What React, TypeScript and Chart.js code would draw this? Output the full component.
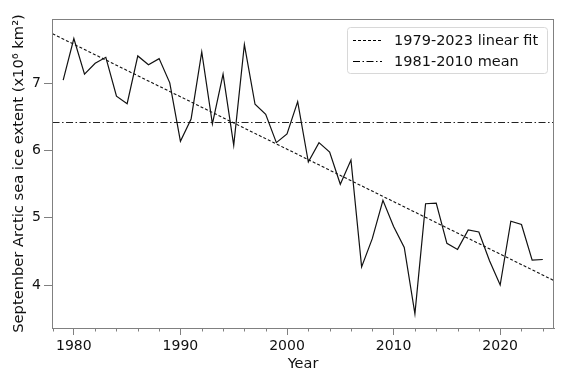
import React, { useEffect, useRef } from "react";
import { Chart, registerables } from "chart.js";

Chart.register(...registerables);

const years = [
  1979, 1980, 1981, 1982, 1983, 1984, 1985, 1986, 1987, 1988, 1989, 1990,
  1991, 1992, 1993, 1994, 1995, 1996, 1997, 1998, 1999, 2000, 2001, 2002,
  2003, 2004, 2005, 2006, 2007, 2008, 2009, 2010, 2011, 2012, 2013, 2014,
  2015, 2016, 2017, 2018, 2019, 2020, 2021, 2022, 2023, 2024,
];
const extent = [
  7.05, 7.67, 7.14, 7.30, 7.39, 6.81, 6.70, 7.41, 7.28, 7.37, 7.01, 6.14,
  6.47, 7.47, 6.40, 7.14, 6.08, 7.58, 6.69, 6.54, 6.12, 6.25, 6.73, 5.83,
  6.12, 5.98, 5.50, 5.86, 4.27, 4.69, 5.26, 4.87, 4.56, 3.57, 5.21, 5.22,
  4.62, 4.53, 4.82, 4.79, 4.36, 4.00, 4.95, 4.90, 4.37, 4.38,
];
const fitYears = [1978, 2025];
const fitValues = [7.74, 4.07];
const meanYears = [1978, 2025];
const meanValues = [6.42, 6.42];
const xMajorTicks = [1980, 1990, 2000, 2010, 2020];
const xMinorTicks = [
  1978, 1982, 1984, 1986, 1988, 1992, 1994, 1996, 1998, 2002, 2004, 2006,
  2008, 2012, 2014, 2016, 2018, 2022, 2024,
];
const yTicks = [4, 5, 6, 7];
const legendLabels = ["1979-2023 linear fit", "1981-2010 mean"];
const xTitle = "Year";
const yTitle = "September Arctic sea ice extent (x10\u2076 km\u00b2)";

const FONT = "'DejaVu Sans', sans-serif";
const FIT_DASH = [3, 2];
const MEAN_DASH = [7, 2.5, 1.5, 2.5];

export default function App() {
  const ref = useRef<HTMLCanvasElement | null>(null);
  useEffect(() => {
    if (!ref.current) return;
    const extras = {
      id: "extras",
      afterDraw(chart: any) {
        const ctx = chart.ctx;
        const ca = chart.chartArea;
        const xs = chart.scales.x;
        ctx.save();
        // box spines
        ctx.strokeStyle = "#808080";
        ctx.lineWidth = 1;
        ctx.setLineDash([]);
        ctx.strokeRect(ca.left + 0.5, ca.top + 0.5, ca.right - ca.left - 1, ca.bottom - ca.top);
        // minor ticks
        ctx.beginPath();
        for (const v of xMinorTicks) {
          const px = Math.round(xs.getPixelForValue(v)) + 0.5;
          ctx.moveTo(px, ca.bottom);
          ctx.lineTo(px, ca.bottom + 3.5);
        }
        ctx.stroke();
        // legend
        const lx = 347, ly = 27, lw = 200, lh = 46;
        ctx.fillStyle = "rgba(255,255,255,0.85)";
        ctx.strokeStyle = "#d8d8d8";
        ctx.beginPath();
        (ctx as any).roundRect(lx + 0.5, ly + 0.5, lw, lh, 3);
        ctx.fill();
        ctx.stroke();
        const rows = [
          { y: 40, dash: FIT_DASH, label: legendLabels[0] },
          { y: 61, dash: MEAN_DASH, label: legendLabels[1] },
        ];
        ctx.font = `14.5px ${FONT}`;
        ctx.textBaseline = "middle";
        ctx.textAlign = "left";
        for (const r of rows) {
          ctx.strokeStyle = "#000";
          ctx.lineWidth = 1;
          ctx.setLineDash(r.dash);
          ctx.beginPath();
          ctx.moveTo(353, r.y + 0.5);
          ctx.lineTo(382, r.y + 0.5);
          ctx.stroke();
          ctx.setLineDash([]);
          ctx.fillStyle = "#111";
          ctx.fillText(r.label, 394, r.y + 1);
        }
        ctx.restore();
      },
    };
    const chart = new Chart(ref.current, {
      type: "line",
      data: {
        datasets: [
          {
            label: "extent",
            data: years.map((y, i) => ({ x: y, y: extent[i] })),
            borderColor: "#111",
            borderWidth: 1.2,
            pointRadius: 0,
            tension: 0,
          },
          {
            label: legendLabels[0],
            data: fitYears.map((y, i) => ({ x: y, y: fitValues[i] })),
            borderColor: "#111",
            borderWidth: 1.1,
            borderDash: FIT_DASH,
            pointRadius: 0,
          },
          {
            label: legendLabels[1],
            data: meanYears.map((y, i) => ({ x: y, y: meanValues[i] })),
            borderColor: "#222",
            borderWidth: 1.1,
            borderDash: MEAN_DASH,
            pointRadius: 0,
          },
        ],
      },
      options: {
        animation: false,
        responsive: false,
        devicePixelRatio: 1,
        layout: { padding: { top: 19, right: 20, left: 0, bottom: 0 } },
        plugins: { legend: { display: false }, tooltip: { enabled: false } },
        scales: {
          x: {
            type: "linear",
            min: 1977.95,
            max: 2025.05,
            afterBuildTicks: (s: any) => {
              s.ticks = xMajorTicks.map((v) => ({ value: v }));
            },
            afterFit: (s: any) => {
              s.height = 51;
            },
            grid: {
              drawOnChartArea: false,
              drawTicks: true,
              tickLength: 7,
              color: "#808080",
            },
            border: { display: true, color: "#808080" },
            ticks: {
              color: "#111",
              font: { family: FONT, size: 14 },
              padding: 3,
              maxRotation: 0,
              callback: (v: any) => String(v),
            },
            title: {
              display: true,
              text: xTitle,
              color: "#111",
              font: { family: FONT, size: 14.5 },
              padding: { top: 0, bottom: 6 },
            },
          },
          y: {
            type: "linear",
            min: 3.36,
            max: 7.96,
            afterBuildTicks: (s: any) => {
              s.ticks = yTicks.map((v) => ({ value: v }));
            },
            afterFit: (s: any) => {
              s.width = 52;
            },
            grid: {
              drawOnChartArea: false,
              drawTicks: true,
              tickLength: 8,
              color: "#808080",
            },
            border: { display: true, color: "#808080" },
            ticks: {
              color: "#111",
              font: { family: FONT, size: 14 },
              padding: 3,
              callback: (v: any) => String(v),
            },
            title: {
              display: true,
              text: yTitle,
              color: "#111",
              font: { family: FONT, size: 14.7 },
              padding: { top: 10, bottom: 0 },
            },
          },
        },
      },
      plugins: [extras],
    });
    return () => chart.destroy();
  }, []);
  return (
    <div style={{ position: "absolute", left: 0, top: 0, width: 574, height: 379, background: "#fff" }}>
      <canvas ref={ref} width={574} height={379} style={{ width: 574, height: 379, display: "block" }} />
    </div>
  );
}
